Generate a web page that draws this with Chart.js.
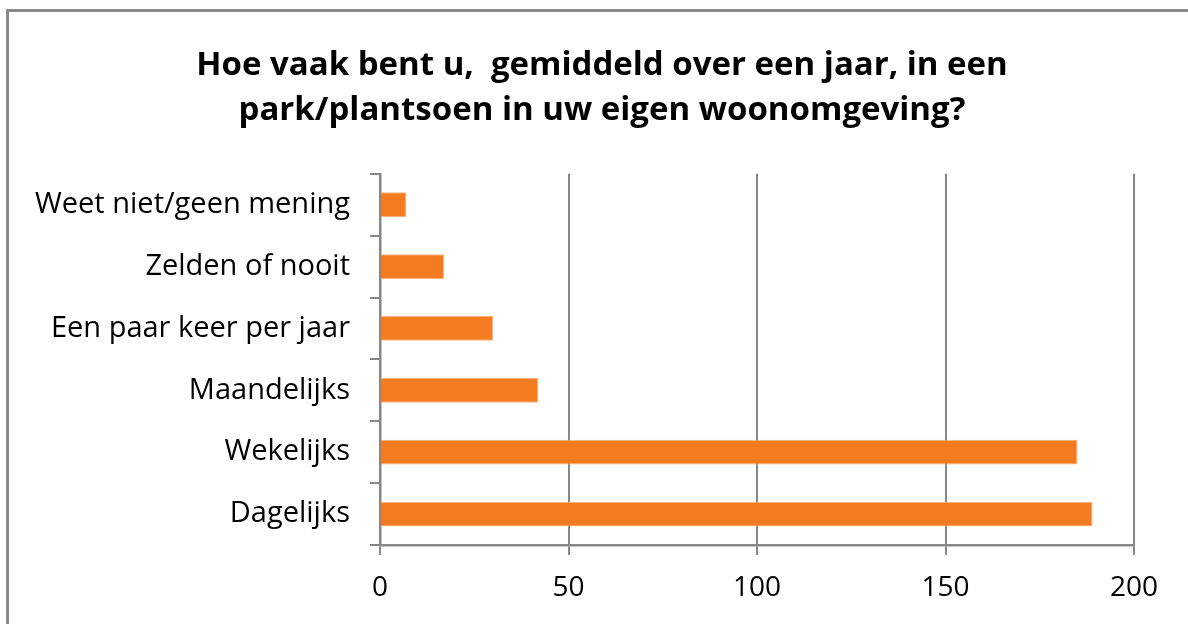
<!DOCTYPE html>
<html>
<head>
<meta charset="utf-8">
<script src="https://cdn.jsdelivr.net/npm/chart.js@4.4.1/dist/chart.umd.min.js"></script>
<style>
  html, body { margin: 0; padding: 0; background: #fff; }
  #wrap { position: relative; width: 1188px; height: 624px; overflow: hidden; }
  #frame { position: absolute; left: 6px; top: 9px; width: 1200px; height: 700px;
           border-left: 3px solid #8a8a8a; border-top: 3px solid #8a8a8a; box-sizing: border-box; }
  canvas { position: absolute; left: 0; top: 0; }
</style>
</head>
<body>
<div id="wrap">
  <div id="frame"></div>
  <canvas id="chart" width="1188" height="624"></canvas>
</div>
<script>
const titleLines = ['Hoe vaak bent u,  gemiddeld over een jaar, in een', 'park/plantsoen in uw eigen woonomgeving?'];
const categories = ['Weet niet/geen mening', 'Zelden of nooit', 'Een paar keer per jaar', 'Maandelijks', 'Wekelijks', 'Dagelijks'];
const answers = [7, 17, 30, 42, 185, 189];
const xTicks = [0, 50, 100, 150, 200];

const FONT = "'Open Sans', 'Liberation Sans', sans-serif";
const AXIS_GRAY = '#878787';

new Chart(document.getElementById('chart'), {
  type: 'bar',
  data: {
    labels: categories,
    datasets: [{
      data: answers,
      backgroundColor: '#F47B20',
      borderColor: '#F9B27A',
      borderWidth: 1,
      barPercentage: 0.4,
      categoryPercentage: 1.0
    }]
  },
  options: {
    indexAxis: 'y',
    responsive: false,
    animation: false,
    devicePixelRatio: 1,
    layout: { padding: { left: 16, right: 0, top: 0, bottom: 0 } },
    plugins: {
      legend: { display: false },
      tooltip: { enabled: false },
      title: {
        display: true,
        text: titleLines,
        color: '#000',
        font: { family: FONT, size: 33, weight: 'bold', lineHeight: 1.36 },
        padding: { top: 43, bottom: 41 }
      }
    },
    scales: {
      x: {
        min: 0, max: 200,
        afterBuildTicks: s => { s.ticks = xTicks.map(v => ({ value: v })); },
        afterFit: s => { s.height = 79; },
        border: { display: true, color: AXIS_GRAY, width: 2.5 },
        grid: { color: AXIS_GRAY, lineWidth: 2, drawTicks: true, tickLength: 10, tickColor: AXIS_GRAY },
        ticks: { color: '#000', padding: 16, font: { family: FONT, size: 28 }, maxRotation: 0 }
      },
      y: {
        afterFit: s => { s.width = 364; },
        border: { display: true, color: AXIS_GRAY, width: 2.5 },
        grid: { offset: true, drawOnChartArea: false, drawTicks: true, tickLength: 10, tickColor: AXIS_GRAY, lineWidth: 2 },
        ticks: { color: '#000', padding: 20, font: { family: FONT, size: 29 } }
      },
      // empty right-hand margin so the "200" label has room
      yRight: {
        type: 'category',
        labels: categories,
        position: 'right',
        afterFit: s => { s.width = 54; },
        border: { display: false },
        grid: { display: false },
        ticks: { display: false }
      }
    }
  }
});
</script>
</body>
</html>
